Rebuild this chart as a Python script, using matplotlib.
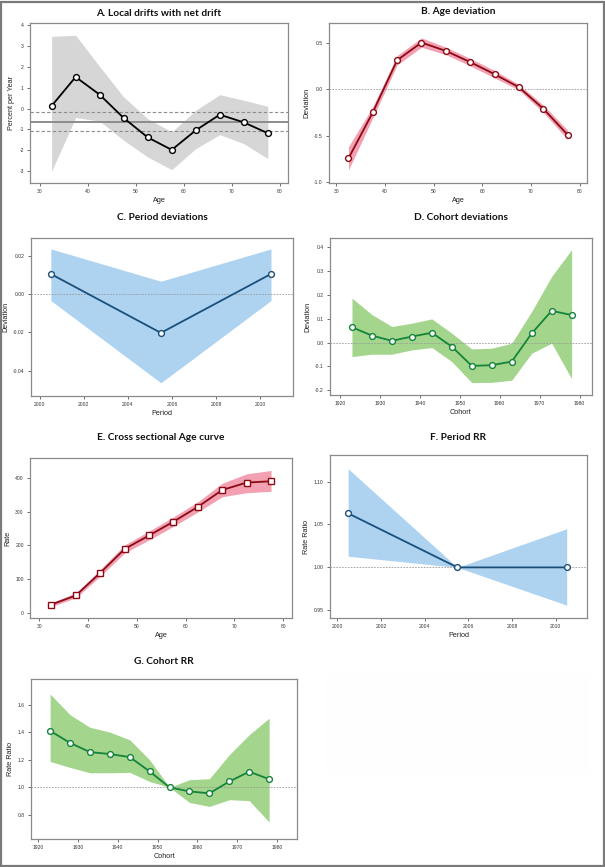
import numpy as np
import matplotlib
matplotlib.use("Agg")
import matplotlib.pyplot as plt
from matplotlib.patches import Rectangle

# ---- data ----
ages = [32.5, 37.5, 42.5, 47.5, 52.5, 57.5, 62.5, 67.5, 72.5, 77.5]
periods = [2000.5, 2005.5, 2010.5]
cohorts = [1923, 1928, 1933, 1938, 1943, 1948, 1953, 1958, 1963, 1968, 1973, 1978]

local_drift = [0.13, 1.52, 0.67, -0.45, -1.38, -1.98, -1.04, -0.29, -0.66, -1.18]
local_drift_hi = [3.47, 3.52, 2.02, 0.56, -0.48, -1.12, -0.08, 0.67, 0.40, 0.11]
local_drift_lo = [-3.0, -0.43, -0.60, -1.52, -2.32, -2.93, -1.92, -1.25, -1.68, -2.40]
net_drift = -0.64
net_drift_ci = [-1.09, -0.16]

age_dev = [-0.745, -0.25, 0.31, 0.50, 0.41, 0.29, 0.16, 0.02, -0.21, -0.49]
age_dev_hi = [-0.62, -0.19, 0.36, 0.55, 0.45, 0.33, 0.20, 0.05, -0.17, -0.44]
age_dev_lo = [-0.87, -0.31, 0.26, 0.45, 0.37, 0.25, 0.12, -0.01, -0.25, -0.54]

period_dev = [0.0106, -0.0202, 0.0106]
period_dev_hi = [0.0237, 0.0068, 0.0237]
period_dev_lo = [-0.0033, -0.0463, -0.0033]

cohort_dev = [0.064, 0.029, 0.007, 0.025, 0.041, -0.017, -0.098, -0.095, -0.080, 0.038, 0.133, 0.115]
cohort_dev_hi = [0.186, 0.117, 0.067, 0.081, 0.099, 0.039, -0.027, -0.024, -0.003, 0.130, 0.277, 0.389]
cohort_dev_lo = [-0.059, -0.049, -0.049, -0.031, -0.021, -0.080, -0.168, -0.167, -0.158, -0.045, -0.003, -0.152]

cs_rate = [24, 51, 118, 189, 229, 270, 314, 364, 386, 390]
cs_rate_hi = [30, 58, 128, 201, 242, 284, 329, 384, 412, 422]
cs_rate_lo = [18, 44, 108, 177, 216, 256, 299, 344, 356, 360]

period_rr = [1.063, 1.0, 1.0]
period_rr_hi = [1.115, 1.0, 1.045]
period_rr_lo = [1.013, 1.0, 0.956]

cohort_rr = [1.41, 1.323, 1.256, 1.242, 1.22, 1.116, 1.0, 0.971, 0.957, 1.043, 1.114, 1.06]
cohort_rr_hi = [1.677, 1.527, 1.436, 1.401, 1.345, 1.20, 1.0, 1.056, 1.063, 1.237, 1.382, 1.502]
cohort_rr_lo = [1.188, 1.145, 1.106, 1.106, 1.109, 1.043, 1.0, 0.891, 0.862, 0.911, 0.904, 0.749]

W, H = 605, 867
fig = plt.figure(figsize=(W / 100, H / 100), dpi=100)
fig.patch.set_facecolor("white")

TITLE_FONT = ["Lato", "DejaVu Sans"]
LABEL_FONT = ["Liberation Sans", "DejaVu Sans"]


def make_axes(left, top, right, bottom):
    ax = fig.add_axes([left / W, 1 - bottom / H, (right - left) / W, (bottom - top) / H])
    for s in ax.spines.values():
        s.set_color("#8a8a8a")
        s.set_linewidth(0.9)
    ax.tick_params(direction="out", length=2.5, width=0.5, labelsize=3.6,
                   colors="#333333", pad=2)
    ax.tick_params(top=False, right=False)
    return ax


def panel(box, title, title_y, xlabel, ylabel, x, y, lo, hi, line_c, band_c,
          xlim, ylim, xticks, yticks, ytick_fmt, ref=None, marker="o"):
    ax = make_axes(*box)
    ax.fill_between(x, lo, hi, color=band_c, lw=0, zorder=1)
    if ref is not None:
        ax.axhline(ref, color="#9a9a9a", lw=0.6, ls=(0, (2, 1.5)), zorder=2)
    ax.plot(x, y, color=line_c, lw=1.3, marker=marker, ms=4.2, mfc="white",
            mec=line_c, mew=1.0, zorder=3)
    ax.set_xlim(*xlim)
    ax.set_ylim(*ylim)
    ax.set_xticks(xticks)
    ax.set_yticks(yticks)
    ax.set_xticklabels([str(t) for t in xticks], family=LABEL_FONT)
    ax.set_yticklabels([ytick_fmt.format(t) for t in yticks], family=LABEL_FONT)
    ax.set_xlabel(xlabel, fontsize=5.2, family=LABEL_FONT, labelpad=2, color="#222222")
    ax.set_ylabel(ylabel, fontsize=5.2, family=LABEL_FONT, labelpad=3, color="#222222")
    cx = (box[0] + box[2]) / 2 / W
    fig.text(cx, 1 - title_y / H, title, ha="center", va="center", fontsize=7.3,
             family=TITLE_FONT, fontweight="bold", color="#111111")
    return ax


# A. Local drifts with net drift
axA = panel((30, 23, 288, 183), "A. Local drifts with net drift", 13, "Age", "Percent per Year",
            ages, local_drift, local_drift_lo, local_drift_hi, "black", "#d6d6d6",
            (28.0, 81.7), (-3.57, 4.11), [30, 40, 50, 60, 70, 80], list(range(-3, 5)), "{:d}")
axA.axhline(net_drift, color="#8c8c8c", lw=1.4, zorder=2)
for v in net_drift_ci:
    axA.axhline(v, color="#8c8c8c", lw=0.8, ls=(0, (3, 2)), zorder=2)

# B. Age deviation
panel((329, 23, 587, 183), "B. Age deviation", 12, "Age", "Deviation",
      ages, age_dev, age_dev_lo, age_dev_hi, "#8b0a14", "#f2a0b2",
      (28.5, 81.5), (-1.01, 0.71), [30, 40, 50, 60, 70, 80], [-1.0, -0.5, 0.0, 0.5], "{:.1f}", ref=0.0)

# C. Period deviations
panel((31, 238, 293, 396), "C. Period deviations", 218, "Period", "Deviation",
      periods, period_dev, period_dev_lo, period_dev_hi, "#1b4f7a", "#aed3f1",
      (1999.6, 2011.5), (-0.0532, 0.0294), [2000, 2002, 2004, 2006, 2008, 2010],
      [-0.04, -0.02, 0.0, 0.02], "{:.2f}", ref=0.0)

# D. Cohort deviations
panel((330, 238, 592, 395), "D. Cohort deviations", 218, "Cohort", "Deviation",
      cohorts, cohort_dev, cohort_dev_lo, cohort_dev_hi, "#14843a", "#a3d68c",
      (1917.5, 1983.1), (-0.22, 0.438), [1920, 1930, 1940, 1950, 1960, 1970, 1980],
      [-0.2, -0.1, 0.0, 0.1, 0.2, 0.3, 0.4], "{:.1f}", ref=0.0)

# E. Cross sectional Age curve
panel((30, 458, 292, 618), "E. Cross sectional Age curve", 437, "Age", "Rate",
      ages, cs_rate, cs_rate_lo, cs_rate_hi, "#8b0a14", "#f2a0b2",
      (28.1, 81.8), (-16, 459), [30, 40, 50, 60, 70, 80], [0, 100, 200, 300, 400], "{:d}",
      marker="s")

# F. Period RR
panel((330, 455, 587, 618), "F. Period RR", 437, "Period", "Rate Ratio",
      periods, period_rr, period_rr_lo, period_rr_hi, "#1b4f7a", "#aed3f1",
      (1999.67, 2011.43), (0.941, 1.131), [2000, 2002, 2004, 2006, 2008, 2010],
      [0.95, 1.00, 1.05, 1.10], "{:.2f}", ref=1.0)

# G. Cohort RR
panel((31, 679, 297, 839), "G. Cohort RR", 661, "Cohort", "Rate Ratio",
      cohorts, cohort_rr, cohort_rr_lo, cohort_rr_hi, "#14843a", "#a3d68c",
      (1918.2, 1985.0), (0.626, 1.786), [1920, 1930, 1940, 1950, 1960, 1970, 1980],
      [0.8, 1.0, 1.2, 1.4, 1.6], "{:.1f}", ref=1.0)

# empty eighth slot (barely visible)
fig.patches.append(Rectangle((325 / W, 1 - 775 / H), 264 / W, 102 / H,
                             transform=fig.transFigure, facecolor="#fefefe",
                             edgecolor="none", zorder=0))
# outer frame
fig.patches.append(Rectangle((0.001, 0.001), 0.997, 0.997, transform=fig.transFigure,
                             facecolor="none", edgecolor="#7a7a7a", lw=1.6, zorder=5))

fig.savefig("out.png", dpi=100, facecolor="white")
